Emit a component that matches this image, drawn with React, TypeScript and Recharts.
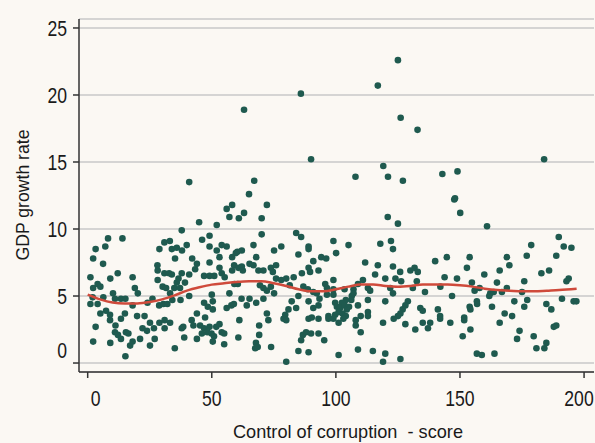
import { CartesianGrid, Label, Scatter, ScatterChart, XAxis, YAxis } from 'recharts'

// [control of corruption score, GDP growth rate], grouped by score band
const band0to45: [number, number][] = [
  [40.9, 13.5], [1.1, 6.4], [2.2, 7.8], [3.2, 8.5], [7.1, 8.7], [8.2, 9.3], [14.0, 9.3],
  [6.2, 7.4], [2.2, 5.6], [4.0, 5.9], [5.1, 5.7], [9.1, 6.3], [12.1, 6.7], [18.1, 6.4],
  [19.0, 5.6], [20.2, 5.2], [1.1, 4.4], [2.0, 4.9], [4.0, 4.4], [6.3, 4.9], [10.2, 5.2],
  [13.4, 4.8], [15.2, 4.8], [18.1, 4.3], [3.2, 2.7], [5.1, 3.7], [7.4, 3.9], [9.0, 3.2],
  [11.2, 2.8], [13.4, 3.3], [15.0, 3.7], [19.9, 3.5], [11.0, 2.3], [12.2, 2.1], [13.4, 1.8],
  [15.4, 2.3], [16.4, 2.2], [2.2, 1.6], [9.1, 1.5], [17.1, 1.3], [18.1, 1.6], [15.2, 0.5],
  [21.1, 1.8], [22.1, 2.6], [22.9, 3.5], [24.1, 4.5], [26.1, 4.8], [23.9, 2.4], [25.1, 3.0],
  [26.7, 2.6], [25.1, 1.3], [27.0, 1.8], [28.9, 3.0], [31.0, 2.6], [31.0, 3.2], [33.2, 3.0],
  [35.1, 1.1], [28.8, 4.3], [30.5, 4.4], [32.1, 4.4], [28.2, 6.2], [28.2, 6.9], [28.1, 7.3],
  [28.9, 8.5], [30.9, 9.0], [33.1, 9.1], [33.9, 8.5], [35.9, 8.6], [38.0, 8.4], [39.9, 8.8],
  [37.9, 9.9], [35.2, 7.8], [30.9, 6.7], [32.8, 6.7], [33.9, 6.6], [30.2, 5.7], [31.6, 5.6],
  [33.2, 5.2], [34.9, 5.6], [37.2, 5.6], [35.9, 6.0], [36.6, 6.3], [37.9, 6.7], [39.2, 6.0],
  [37.4, 4.7], [34.1, 4.7], [40.9, 5.0], [42.1, 7.8], [40.9, 6.6], [43.3, 7.0], [44.0, 7.4],
  [44.9, 10.5], [37.9, 2.6], [38.9, 1.9], [38.5, 2.7], [44.0, 1.8], [42.6, 2.8], [44.0, 3.7],
  [41.9, 3.2], [9.0, 3.6], [11.0, 4.8],
]

const band45to97: [number, number][] = [
  [58.2, 11.8], [56.0, 11.5], [57.1, 10.9], [60.9, 10.8], [63.0, 11.2], [72.2, 11.8],
  [70.1, 10.8], [52.0, 10.3], [70.1, 9.6], [49.1, 9.5], [46.1, 9.2], [49.1, 8.7], [52.0, 8.4],
  [54.0, 8.8], [56.0, 8.7], [60.3, 8.3], [62.1, 8.4], [58.2, 7.9], [59.7, 8.2], [66.8, 8.8],
  [67.9, 7.9], [75.1, 8.4], [78.0, 8.7], [84.0, 9.7], [86.0, 9.4], [89.0, 8.7], [89.0, 8.5],
  [84.9, 8.1], [49.1, 7.5], [53.1, 7.9], [90.9, 7.6], [94.1, 7.9], [96.1, 7.8], [46.9, 6.5],
  [49.1, 6.5], [51.0, 6.5], [53.1, 7.1], [54.0, 6.7], [55.2, 6.4], [59.0, 7.3], [58.2, 6.9],
  [60.7, 7.1], [62.1, 7.2], [62.5, 6.9], [65.2, 7.4], [66.8, 7.3], [68.8, 6.9], [70.8, 6.9],
  [73.8, 7.1], [75.9, 7.3], [74.6, 6.8], [75.9, 6.3], [78.0, 6.2], [80.0, 6.3], [83.0, 6.4],
  [86.3, 6.7], [89.0, 7.1], [89.6, 6.8], [93.0, 6.9], [95.7, 5.9], [96.4, 5.6], [57.1, 5.2],
  [59.1, 5.9], [60.5, 5.9], [69.4, 5.8], [70.8, 5.6], [72.2, 5.4], [73.8, 5.7], [75.1, 5.2],
  [81.4, 5.8], [86.9, 5.7], [88.7, 5.5], [90.9, 5.3], [92.3, 5.2], [93.4, 4.8], [50.0, 5.1],
  [50.4, 4.6], [46.9, 4.5], [48.4, 4.2], [50.4, 4.0], [47.3, 3.4], [56.0, 4.1], [57.9, 4.3],
  [58.9, 4.4], [62.0, 4.8], [65.2, 4.8], [64.1, 4.3], [67.9, 4.5], [70.8, 4.8], [82.2, 4.6],
  [84.9, 5.0], [89.0, 4.6], [84.0, 4.1], [90.9, 4.1], [93.0, 4.3], [72.2, 3.7], [80.9, 4.0],
  [79.6, 3.6], [78.9, 3.3], [80.0, 3.2], [89.0, 3.3], [90.3, 3.4], [93.0, 3.3], [97.0, 3.5],
  [61.1, 3.2], [72.8, 3.2], [45.3, 2.8], [46.9, 2.6], [49.1, 2.7], [51.8, 2.7], [53.1, 2.9],
  [48.2, 2.3], [49.9, 2.2], [50.9, 2.0], [54.0, 2.3], [55.0, 2.2], [50.4, 1.6], [55.0, 1.4],
  [69.1, 2.8], [69.1, 2.1], [60.7, 1.9], [67.8, 1.5], [67.5, 1.1], [68.5, 1.2], [73.9, 1.2],
  [84.9, 0.9], [89.0, 0.8], [86.0, 1.7], [86.7, 2.1], [88.0, 2.3], [90.0, 2.2], [93.0, 2.2],
  [95.3, 1.7], [80.0, 0.1], [46.0, 2.2],
]

const band97to146: [number, number][] = [
  [120.9, 10.9], [125.0, 10.4], [99.0, 9.1], [105.1, 8.8], [100.1, 8.2], [117.9, 8.9],
  [122.2, 9.1], [123.0, 8.5], [111.8, 7.5], [116.9, 7.3], [123.0, 7.2], [125.9, 6.8],
  [130.0, 6.9], [131.7, 7.1], [133.0, 6.8], [115.8, 6.6], [119.9, 6.3], [124.0, 6.3],
  [126.3, 6.1], [132.6, 6.1], [140.0, 7.6], [144.7, 7.9], [143.8, 6.4], [142.1, 5.7],
  [99.0, 6.2], [99.0, 5.5], [99.0, 5.1], [103.5, 5.5], [107.1, 5.5], [108.9, 5.9], [110.9, 6.2],
  [112.9, 5.6], [113.8, 5.4], [121.9, 5.6], [123.0, 5.2], [131.0, 5.6], [135.9, 5.3],
  [146.8, 5.0], [106.4, 5.0], [107.1, 5.2], [106.2, 4.7], [104.0, 4.7], [102.4, 4.5],
  [99.7, 4.5], [100.4, 4.2], [101.7, 4.1], [103.5, 4.3], [105.3, 4.2], [104.4, 4.0],
  [101.1, 3.8], [102.7, 3.7], [104.0, 3.5], [99.7, 3.6], [97.0, 3.3], [99.0, 3.3], [101.1, 3.0],
  [103.0, 3.3], [108.9, 4.3], [112.9, 4.7], [112.9, 3.8], [112.9, 3.5], [110.0, 3.5],
  [108.0, 3.2], [108.0, 2.8], [110.0, 2.3], [119.9, 4.6], [129.0, 4.6], [128.0, 4.3],
  [126.9, 4.0], [126.0, 3.7], [125.0, 3.5], [123.3, 3.3], [119.0, 3.0], [128.0, 2.9],
  [132.0, 2.5], [134.0, 4.1], [135.0, 3.9], [135.0, 3.0], [137.1, 2.6], [138.0, 3.0],
  [141.1, 4.0], [142.0, 3.5], [142.0, 3.3], [96.4, 5.1], [101.1, 0.6], [108.9, 1.0],
  [114.9, 0.9], [119.9, 0.7], [119.0, 0.1], [126.0, 0.3],
]

const band146to200: [number, number][] = [
  [147.7, 12.2], [150.1, 11.2], [160.9, 10.2], [189.8, 9.4], [178.7, 8.8], [191.8, 8.7],
  [194.9, 8.6], [176.9, 8.0], [188.8, 8.0], [153.9, 7.9], [168.9, 7.9], [169.9, 7.3],
  [152.8, 7.1], [166.0, 6.9], [159.8, 6.6], [182.8, 6.7], [185.9, 6.9], [148.8, 6.3],
  [154.8, 6.0], [164.9, 6.0], [175.9, 6.1], [192.9, 6.1], [193.8, 6.3], [157.9, 5.6],
  [155.9, 5.4], [168.9, 5.6], [175.0, 5.3], [162.2, 5.2], [163.6, 5.3], [166.9, 5.3],
  [161.8, 5.0], [191.1, 4.8], [177.1, 4.7], [156.8, 4.6], [156.9, 4.4], [153.9, 4.2],
  [154.2, 4.0], [162.9, 4.2], [171.9, 4.6], [175.9, 4.2], [184.8, 4.4], [186.8, 4.0],
  [195.8, 4.6], [196.9, 4.6], [168.0, 3.7], [171.0, 3.5], [151.7, 3.4], [151.7, 3.2],
  [146.1, 3.0], [166.0, 3.0], [187.8, 2.7], [188.8, 2.8], [154.2, 2.5], [174.0, 2.4],
  [151.1, 2.0], [173.0, 1.8], [179.7, 2.0], [184.8, 1.5], [184.0, 1.1], [180.8, 1.1],
  [156.8, 0.7], [158.8, 0.6], [163.9, 0.7],
]

const highGrowth: [number, number][] = [
  [125.0, 22.6], [116.9, 20.7], [85.9, 20.1], [63.0, 18.9], [126.1, 18.3], [132.9, 17.4],
  [90.0, 15.2], [183.9, 15.2], [119.1, 14.7], [67.1, 13.6], [107.9, 13.9], [121.0, 13.9],
  [127.0, 13.6], [142.9, 14.1], [149.0, 14.3], [65.0, 12.6], [148.0, 12.3],
]

// fitted (lowess) curve
const trendScore = [0, 5, 10, 15, 20, 25, 30, 35, 40, 45, 50, 55, 60, 65, 70, 75, 80, 85, 90, 95, 100,
  105, 110, 115, 120, 125, 130, 135, 140, 145, 150, 155, 160, 165, 170, 175, 180, 185, 190, 197]
const trendGrowth = [5.1, 4.75, 4.52, 4.45, 4.45, 4.55, 4.75, 5.05, 5.4, 5.65, 5.85, 5.95, 6.05, 6.1,
  6.1, 5.95, 5.75, 5.5, 5.35, 5.35, 5.5, 5.7, 5.85, 5.85, 5.75, 5.7, 5.75, 5.85, 5.85, 5.85, 5.8,
  5.7, 5.55, 5.45, 5.4, 5.35, 5.35, 5.4, 5.45, 5.55]

const xTicks = [0, 50, 100, 150, 200]
const yTicks = [0, 5, 10, 15, 20, 25]

const points = [...band0to45, ...band45to97, ...band97to146, ...band146to200, ...highGrowth]
  .map(([x, y]) => ({ x, y }))
const trend = trendScore.map((x, i) => ({ x, y: trendGrowth[i] }))

const font = "'Liberation Sans', Arial, sans-serif"
const ink = '#1a1a1a'

const Dot = (props: any) => <circle cx={props.cx} cy={props.cy} r={3.3} fill="#1f5a4f" />

// condensed tick labels; the end labels are nudged inward like the original
const XTick = ({ x, y, payload }: any) => {
  const v = payload.value
  const shift = v === xTicks[0] ? 8 : v === xTicks[xTicks.length - 1] ? -4 : 0
  return (
    <text
      transform={`translate(${x + shift},${y}) scale(0.8,1)`}
      textAnchor="middle"
      dy="0.71em"
      fill={ink}
      fontSize={22}
      fontFamily={font}
    >
      {v}
    </text>
  )
}

const YTick = ({ x, y, payload }: any) => {
  const v = payload.value
  const shift = v === yTicks[0] ? -13 : 0
  return (
    <text
      transform={`translate(${x},${y + shift}) scale(0.8,1)`}
      textAnchor="end"
      dy="0.355em"
      fill={ink}
      fontSize={22}
      fontFamily={font}
    >
      {v}
    </text>
  )
}

export default function App() {
  return (
    <div style={{ position: 'absolute', left: 0, top: 0, width: 595, height: 443, background: '#fbf8f3' }}>
      <ScatterChart width={595} height={443} margin={{ top: 19, right: 1, bottom: 0, left: 0 }}>
        <CartesianGrid vertical={false} stroke="#c8c8c8" strokeWidth={1.5} />
        <XAxis
          type="number"
          dataKey="x"
          domain={[-3.5, 204]}
          ticks={xTicks}
          allowDataOverflow
          height={71}
          tickSize={6}
          tickMargin={12}
          axisLine={{ stroke: '#333', strokeWidth: 1.5 }}
          tickLine={{ stroke: '#333', strokeWidth: 1.5 }}
          tick={XTick}
        >
          <Label
            content={() => (
              <text
                x={348}
                y={438}
                textAnchor="middle"
                textLength={230}
                lengthAdjust="spacingAndGlyphs"
                fill={ink}
                fontSize={19}
                fontFamily={font}
                style={{ whiteSpace: 'pre' }}
              >
                Control of corruption  - score
              </text>
            )}
          />
        </XAxis>
        <YAxis
          type="number"
          dataKey="y"
          domain={[-0.67, 25.67]}
          ticks={yTicks}
          allowDataOverflow
          width={79}
          tickSize={6}
          tickMargin={6}
          axisLine={{ stroke: '#333', strokeWidth: 1.5 }}
          tickLine={{ stroke: '#333', strokeWidth: 1.5 }}
          tick={YTick}
        >
          <Label
            content={() => (
              <text
                transform="translate(29,195) rotate(-90)"
                textAnchor="middle"
                textLength={131}
                lengthAdjust="spacingAndGlyphs"
                fill={ink}
                fontSize={18.5}
                fontFamily={font}
              >
                GDP growth rate
              </text>
            )}
          />
        </YAxis>
        <Scatter data={points} shape={Dot} isAnimationActive={false} />
        <Scatter
          data={trend}
          shape={() => <g />}
          line={{ stroke: '#cf4a3b', strokeWidth: 2.5 }}
          lineJointType="monotoneX"
          isAnimationActive={false}
        />
      </ScatterChart>
    </div>
  )
}
